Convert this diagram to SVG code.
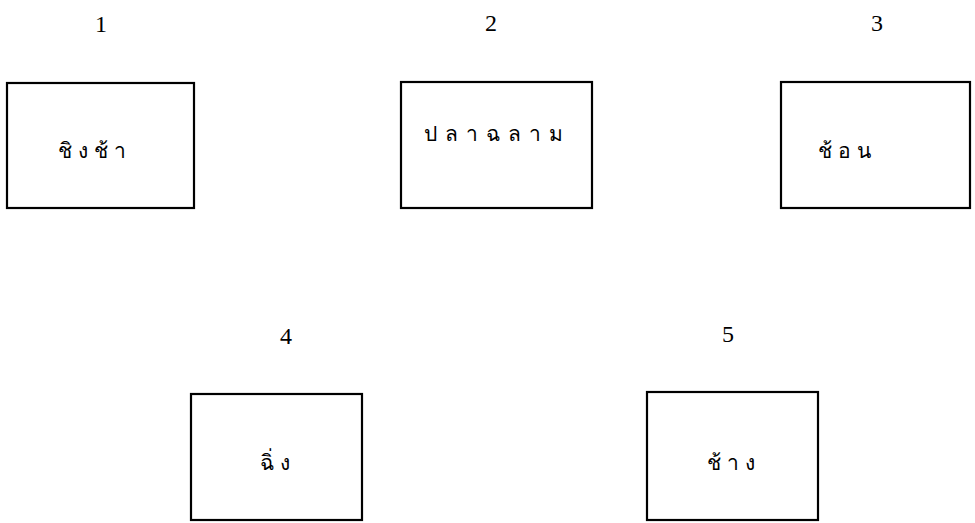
<svg xmlns="http://www.w3.org/2000/svg" width="975" height="523" viewBox="0 0 975 523">
<style>
.box{fill:#fff;stroke:#000;stroke-width:2.2}
.num{font-family:"Liberation Serif",serif;font-size:24px;fill:#000;text-anchor:middle}
.lbl{font-family:"Noto Sans","DejaVu Sans",sans-serif;font-size:21px;fill:#000;text-anchor:middle;letter-spacing:6px}
</style>
<rect width="975" height="523" fill="#fff"/>
<g id="node1">
<text class="num" x="101" y="32">1</text>
<rect class="box" x="7" y="83" width="187" height="125"/>
<text class="lbl" x="95" y="158">ชิงช้า</text>
</g>
<g id="node2">
<text class="num" x="491" y="31">2</text>
<rect class="box" x="401" y="82" width="191" height="126"/>
<text class="lbl" x="497" y="141" style="letter-spacing:8px">ปลาฉลาม</text>
</g>
<g id="node3">
<text class="num" x="877" y="31">3</text>
<rect class="box" x="781" y="82" width="189" height="126"/>
<text class="lbl" x="847" y="158">ช้อน</text>
</g>
<g id="node4">
<text class="num" x="286" y="344">4</text>
<rect class="box" x="191" y="394" width="171" height="126"/>
<text class="lbl" x="278" y="470">ฉิ่ง</text>
</g>
<g id="node5">
<text class="num" x="728" y="342">5</text>
<rect class="box" x="647" y="392" width="171" height="128"/>
<text class="lbl" x="734" y="470">ช้าง</text>
</g>
<g id="connectors"></g>
</svg>
